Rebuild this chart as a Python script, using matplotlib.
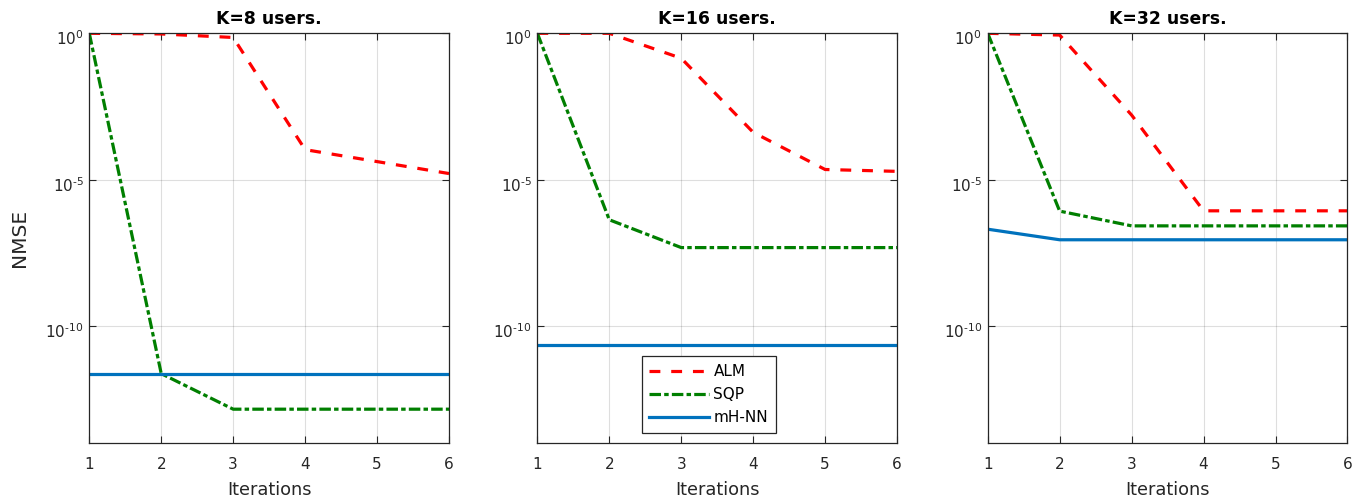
import matplotlib
matplotlib.use("Agg")
import matplotlib.pyplot as plt
import numpy as np
from matplotlib.ticker import FuncFormatter, FixedLocator, NullLocator
from matplotlib.transforms import ScaledTranslation

plt.rcParams['font.family'] = ['DejaVu Sans']
plt.rcParams['mathtext.default'] = 'regular'

iterations = [1, 2, 3, 4, 5, 6]
titles = ["K=8 users.", "K=16 users.", "K=32 users."]

alm_k8 = [1.0, 0.95, 0.72, 1.05e-4, 4.1e-5, 1.6e-5]
sqp_k8 = [1.0, 2.3e-12, 1.4e-13, 1.4e-13, 1.4e-13, 1.4e-13]
mhnn_k8 = [2.2e-12, 2.2e-12, 2.2e-12, 2.2e-12, 2.2e-12, 2.2e-12]

alm_k16 = [1.0, 1.0, 0.14, 4.1e-4, 2.2e-5, 1.9e-5]
sqp_k16 = [1.0, 4.2e-7, 4.7e-8, 4.7e-8, 4.7e-8, 4.7e-8]
mhnn_k16 = [2.2e-11, 2.2e-11, 2.2e-11, 2.2e-11, 2.2e-11, 2.2e-11]

alm_k32 = [1.0, 0.87, 1.6e-3, 8.5e-7, 8.5e-7, 8.5e-7]
sqp_k32 = [1.0, 8.3e-7, 2.6e-7, 2.6e-7, 2.6e-7, 2.6e-7]
mhnn_k32 = [2.0e-7, 8.7e-8, 8.7e-8, 8.7e-8, 8.7e-8, 8.7e-8]

series = [(alm_k8, sqp_k8, mhnn_k8), (alm_k16, sqp_k16, mhnn_k16), (alm_k32, sqp_k32, mhnn_k32)]
yticks = [1e-10, 1e-5, 1e0]


def log_fmt(v, pos):
    n = int(round(np.log10(v)))
    if n < 0:
        return r'$10^{\text{-}%d}$' % (-n)
    return r'$10^{%d}$' % n


fig = plt.figure(figsize=(13.59, 5.0), dpi=100)
lefts = [0.0657, 0.3954, 0.7268]
edge = '#262626'
for i, (left, title, (alm, sqp, mhnn)) in enumerate(zip(lefts, titles, series)):
    ax = fig.add_axes([left, 0.1146, 0.2647, 0.8188])
    ax.plot(iterations, alm, color='#FF0000', linestyle=(0, (3.4, 3.4)), linewidth=2.3, label='ALM')
    ax.plot(iterations, sqp, color='#007F00', linestyle=(0, (3.6, 1.0, 1.4, 1.0)), linewidth=2.3, label='SQP')
    ax.plot(iterations, mhnn, color='#0072BD', linestyle='-', linewidth=2.3, label='mH-NN')
    ax.set_yscale('log')
    ax.set_xlim(1, 6)
    ax.set_ylim(1e-14, 1e0)
    ax.yaxis.set_major_locator(FixedLocator(yticks))
    ax.yaxis.set_major_formatter(FuncFormatter(log_fmt))
    ax.yaxis.set_minor_locator(NullLocator())
    ax.set_xticks(iterations)
    ax.grid(True, color='#000000', alpha=0.13, linewidth=0.8)
    ax.tick_params(direction='in', top=True, right=True, length=5, width=0.8,
                   labelsize=11, colors=edge, labelcolor=edge)
    ax.tick_params(axis='x', pad=10)
    ax.tick_params(axis='y', pad=4)
    shift = ScaledTranslation(0, -3 / 72, fig.dpi_scale_trans)
    for lab in ax.get_yticklabels():
        lab.set_transform(lab.get_transform() + shift)
    for sp in ax.spines.values():
        sp.set_color(edge)
        sp.set_linewidth(0.9)
    ax.set_title(title, fontsize=12.4, fontweight='bold', pad=6.7)
    ax.set_xlabel('Iterations', fontsize=12.8, color=edge, labelpad=6.5)
    if i == 0:
        ax.set_ylabel('NMSE', fontsize=14.5, color=edge)
        ax.yaxis.set_label_coords(-0.168, 0.5)
    if i == 1:
        leg = ax.legend(loc='lower left', bbox_to_anchor=(0.29, 0.024), fontsize=11,
                        handlelength=3.9, handletextpad=0.3, borderaxespad=0,
                        fancybox=False, framealpha=1, edgecolor=edge,
                        labelspacing=0.53, borderpad=0.5)
        leg.get_frame().set_linewidth(0.9)

fig.savefig('out.png', dpi=100)
